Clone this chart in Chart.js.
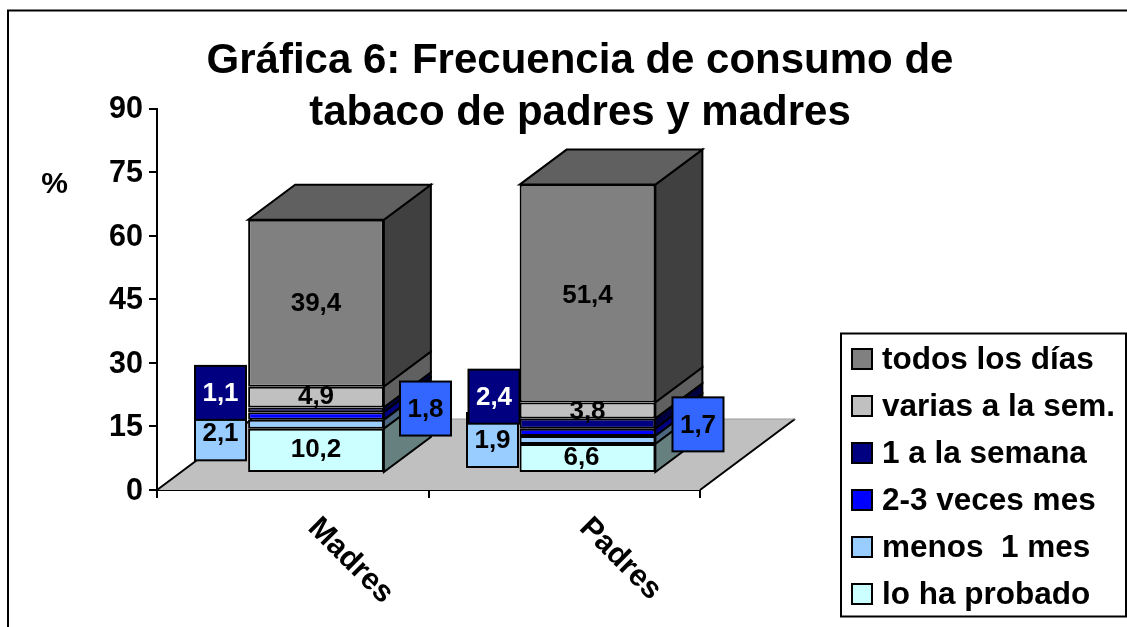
<!DOCTYPE html>
<html><head><meta charset="utf-8">
<style>html,body{margin:0;padding:0;background:#fff}#w{width:1127px;height:627px;position:relative}</style>
<script src="https://cdn.jsdelivr.net/npm/chart.js@4/dist/chart.umd.min.js"></script>
</head><body><div id="w"><canvas id="c" width="1127" height="627"></canvas></div>
<script>
const categories = ['Madres', 'Padres'];
const seriesNames = ['lo ha probado', 'menos  1 mes', '2-3 veces mes', '1 a la semana', 'varias a la sem.', 'todos los días'];
const loHaProbado = [10.2, 6.6];
const menos1Mes = [2.1, 1.9];
const dosTresVeces = [1.8, 1.7];
const unoSemana = [1.1, 2.4];
const variasSemana = [4.9, 3.8];
const todosDias = [39.4, 51.4];
const yTicks = [0, 15, 30, 45, 60, 75, 90];

const FONT = '"Liberation Sans", Arial, sans-serif';
const fills = ['#CCFFFF', '#99CCFF', '#0000FF', '#000080', '#C0C0C0', '#808080'];
const sides = ['#668080', '#4D6680', '#000080', '#000040', '#606060', '#404040'];
const topFace = '#606060';
// 3D projection of the Excel-style chart
const DEPTH_X = 47, DEPTH_Y = 35, SHIFT_X = 23.25, FLOOR_X = 95, FLOOR_Y = 71, LIFT = 18;
// value-label callouts: [dx, dy] from segment centre, per category
const callouts = {
  1: {fill: '#99CCFF', color: '#000', off: [[-95.5, 9], [-95, 0]]},
  2: {fill: '#3366FF', color: '#000', off: [[109.5, -7.5], [110.5, -8]]},
  3: {fill: '#000080', color: '#fff', off: [[-95.5, -17], [-93.5, -27]]}
};
// inline value labels: [dx, dy] from segment centre, per category
const inlineOff = {
  0: [[0, -0.5], [-6, -0.5]],
  4: [[0, 0], [0, 1]],
  5: [[0, 1], [0, 2]]
};
const fmt = v => String(v).replace('.', ',');

const poly = (ctx, pts, fill, stroke, lw) => {
  ctx.beginPath();
  pts.forEach((p, i) => i ? ctx.lineTo(p[0], p[1]) : ctx.moveTo(p[0], p[1]));
  ctx.closePath();
  if (fill) { ctx.fillStyle = fill; ctx.fill(); }
  if (stroke) { ctx.strokeStyle = stroke; ctx.lineWidth = lw; ctx.stroke(); }
};

const frame3d = {
  id: 'frame3d',
  beforeDraw(chart) {
    const ctx = chart.ctx;
    ctx.save();
    ctx.fillStyle = '#fff';
    ctx.fillRect(0, 0, chart.width, chart.height);
    ctx.strokeStyle = '#000';
    ctx.lineWidth = 2;
    ctx.beginPath();
    ctx.moveTo(8, 640); ctx.lineTo(8, 10.5); ctx.lineTo(1140, 10.5);
    ctx.stroke();
    ctx.restore();
    const tb = chart.titleBlock;
    tb.left = 33; tb.right = chart.width;
  },
  beforeDatasetsDraw(chart) {
    const ctx = chart.ctx, a = chart.chartArea;
    ctx.save();
    poly(ctx, [[a.left, a.bottom], [a.right, a.bottom], [a.right + FLOOR_X, a.bottom - FLOOR_Y], [a.left + FLOOR_X, a.bottom - FLOOR_Y]], '#C0C0C0');
    ctx.strokeStyle = '#000'; ctx.lineWidth = 2;
    ctx.beginPath(); ctx.moveTo(a.left, a.bottom); ctx.lineTo(a.left + FLOOR_X, a.bottom - FLOOR_Y); ctx.stroke();
    ctx.beginPath(); ctx.moveTo(a.right, a.bottom); ctx.lineTo(a.right + FLOOR_X, a.bottom - FLOOR_Y); ctx.stroke();
    ctx.strokeStyle = '#9a9a9a'; ctx.lineWidth = 1;
    ctx.beginPath(); ctx.moveTo(a.left + FLOOR_X, a.bottom - FLOOR_Y); ctx.lineTo(a.right + FLOOR_X, a.bottom - FLOOR_Y); ctx.stroke();
    ctx.restore();
    ctx.save();
    ctx.translate(SHIFT_X, 0);
  },
  afterDatasetDraw(chart, args) {
    const ctx = chart.ctx, i = args.index;
    chart.getDatasetMeta(i).data.forEach(el => {
      const r = el.x + el.width / 2, l = el.x - el.width / 2;
      poly(ctx, [[r, el.y], [r + DEPTH_X, el.y - DEPTH_Y], [r + DEPTH_X, el.base - DEPTH_Y], [r, el.base]], sides[i], '#000', 2);
      if (i === chart.data.datasets.length - 1) {
        poly(ctx, [[l, el.y], [l + DEPTH_X, el.y - DEPTH_Y], [r + DEPTH_X, el.y - DEPTH_Y], [r, el.y]], topFace, '#000', 2);
      }
    });
  },
  afterDatasetsDraw(chart) {
    const ctx = chart.ctx;
    ctx.font = 'bold 26px ' + FONT;
    ctx.textAlign = 'center';
    ctx.textBaseline = 'middle';
    chart.data.datasets.forEach((ds, i) => {
      if (callouts[i]) return;
      chart.getDatasetMeta(i).data.forEach((el, j) => {
        ctx.fillStyle = '#000';
        ctx.fillText(fmt(ds.data[j]), el.x + inlineOff[i][j][0], (el.y + el.base) / 2 + inlineOff[i][j][1]);
      });
    });
    [1, 2, 3].forEach(i => {
      const c = callouts[i];
      chart.getDatasetMeta(i).data.forEach((el, j) => {
        const cx = el.x + c.off[j][0], cy = (el.y + el.base) / 2 + c.off[j][1];
        ctx.fillStyle = c.fill;
        ctx.fillRect(cx - 25.5, cy - 27, 51, 54);
        ctx.strokeStyle = '#000'; ctx.lineWidth = 2;
        ctx.strokeRect(cx - 25.5, cy - 27, 51, 54);
        ctx.fillStyle = c.color;
        ctx.fillText(fmt(chart.data.datasets[i].data[j]), cx, cy + 1);
      });
    });
    ctx.restore();

    // % label
    ctx.save();
    ctx.font = 'bold 30px ' + FONT;
    ctx.fillStyle = '#000';
    ctx.textAlign = 'center'; ctx.textBaseline = 'middle';
    ctx.fillText('%', 54.5, 185);

    // legend
    ctx.fillStyle = '#fff';
    ctx.fillRect(841, 333.5, 285, 283);
    ctx.strokeStyle = '#000'; ctx.lineWidth = 2;
    ctx.strokeRect(841, 333.5, 285, 283);
    ctx.font = 'bold 31.5px ' + FONT;
    ctx.textAlign = 'left';
    chart.data.datasets.slice().reverse().forEach((ds, k) => {
      const y = 349 + k * 47;
      ctx.fillStyle = ds.backgroundColor;
      ctx.fillRect(852, y, 20, 20);
      ctx.strokeRect(852, y, 20, 20);
      ctx.fillStyle = '#000';
      ctx.fillText(ds.label, 882, y + 11.5);
    });
    ctx.restore();
  }
};

const data = {
  labels: categories,
  datasets: [loHaProbado, menos1Mes, dosTresVeces, unoSemana, variasSemana, todosDias].map((values, i) => ({
    label: seriesNames[i],
    data: values,
    backgroundColor: fills[i],
    borderColor: '#000',
    borderWidth: 2,
    borderSkipped: false,
    barPercentage: 1,
    categoryPercentage: 0.5,
    yAxisID: 'yBars',
    clip: false
  }))
};

new Chart(document.getElementById('c'), {
  type: 'bar',
  data,
  plugins: [frame3d],
  options: {
    responsive: false,
    animation: false,
    events: [],
    layout: {padding: {left: 0, right: 427, top: 0, bottom: 0}},
    plugins: {
      legend: {display: false},
      tooltip: {enabled: false},
      title: {
        display: true,
        text: ['Gráfica 6: Frecuencia de consumo de', 'tabaco de padres y madres'],
        color: '#000',
        font: {family: FONT, size: 42, weight: 'bold', lineHeight: 1.25},
        padding: {top: 35, bottom: -31.5}
      }
    },
    scales: {
      x: {
        stacked: true,
        afterFit(s) {
          s.height = 137;
          if (!s._wrapped) {
            s._wrapped = true;
            const orig = s._computeLabelItems;
            s._computeLabelItems = function (area) {
              const items = orig.call(this, area);
              items.forEach(it => {
                it.textOffset = 0;
                it.options.textAlign = 'left';
                it.options.textBaseline = 'middle';
                it.options.translation = [it.options.translation[0] + 7, 523];
              });
              return items;
            };
          }
        },
        grid: {drawOnChartArea: false, color: '#000', lineWidth: 2, tickLength: 8, offset: true},
        border: {color: '#000', width: 2},
        ticks: {color: '#000', font: {family: FONT, size: 30.5, weight: 'bold'}, minRotation: -45, maxRotation: -45, autoSkip: false, padding: 10}
      },
      y: {
        position: 'left',
        min: 0, max: 90,
        afterBuildTicks(s) { s.ticks = yTicks.map(value => ({value})); },
        afterFit(s) {
          s.width = 157;
          if (!s._wrapped) {
            s._wrapped = true;
            const orig = s._computeLabelItems;
            s._computeLabelItems = function (area) {
              const items = orig.call(this, area);
              items.forEach(it => { it.options.translation = [it.options.translation[0], it.options.translation[1] + 1.5]; });
              return items;
            };
          }
        },
        grid: {drawOnChartArea: false, color: '#000', lineWidth: 2, tickLength: 8},
        border: {color: '#000', width: 2},
        ticks: {color: '#000', font: {family: FONT, size: 30.5, weight: 'bold'}, padding: 6}
      },
      yBars: {
        display: false,
        stacked: true,
        min: -LIFT / (381.5 / 90),
        max: 90 - LIFT / (381.5 / 90)
      }
    }
  }
});
</script></body></html>
